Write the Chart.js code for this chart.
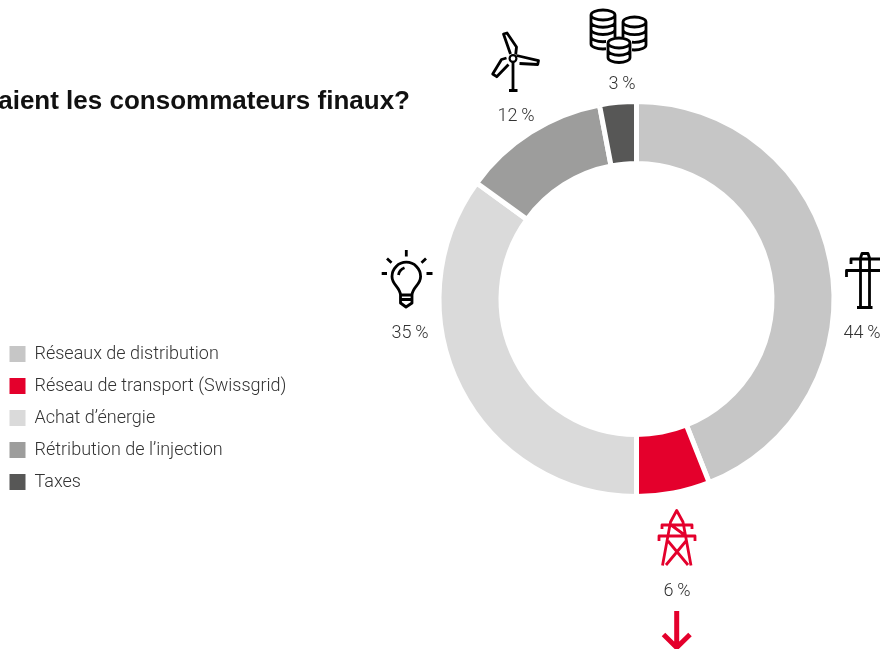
<!DOCTYPE html>
<html><head><meta charset="utf-8">
<style>html,body{margin:0;padding:0;background:#fff;overflow:hidden}canvas{display:block}</style>
<script src="https://cdn.jsdelivr.net/npm/chart.js@4"></script>
</head><body>
<div style="position:relative;width:880px;height:649px"><canvas id="c" width="880" height="649"></canvas></div>
<script>
const categories = ["Réseaux de distribution","Réseau de transport (Swissgrid)","Achat d’énergie","Rétribution de l’injection","Taxes"];
const shares = [44,6,35,12,3];
const colors = ["#c6c6c6","#e4002c","#dadada","#9d9d9c","#575756"];
const titleText = "aient les consommateurs finaux?";
const labelAnchors = [[862,338],[677,596],[410,338],[516,121],[622,89]];
const ink = "#333333", black = "#000000", red = "#e4002c";

function strokeP(ctx, d, color, w){ ctx.strokeStyle=color; ctx.lineWidth=w; ctx.stroke(new Path2D(d)); }
function coinStack(x,y,w,h,n){
  const rx=w/2, ry=5; let d=`M${x} ${y+ry}A${rx} ${ry} 0 0 1 ${x+w} ${y+ry}A${rx} ${ry} 0 0 1 ${x} ${y+ry}Z`;
  d+=`M${x} ${y+ry}V${y+h-ry}A${rx} ${ry} 0 0 0 ${x+w} ${y+h-ry}V${y+ry}`;
  const step=(h-2*ry)/n;
  for(let i=1;i<n;i++){const yy=y+ry+step*i; d+=`M${x} ${yy}A${rx} ${ry} 0 0 0 ${x+w} ${yy}`;}
  return d;
}
const decorations = {
  id:'decorations',
  afterDraw(chart){
    const ctx=chart.ctx; ctx.save();
    ctx.lineCap='butt'; ctx.lineJoin='round';
    ctx.fillStyle="#111"; ctx.font="700 26px 'Liberation Sans'"; ctx.textAlign='right'; ctx.textBaseline='alphabetic';
    ctx.fillText(titleText,410,109);
    ctx.fillStyle=ink; ctx.font="300 18px Roboto"; ctx.textAlign='center';
    shares.forEach((v,i)=>ctx.fillText(v+"\u2009%",labelAnchors[i][0],labelAnchors[i][1]));
    // distribution pylon
    strokeP(ctx,"M860.5 307V258L862 253.5H868L869.5 258V307M857 307.5H872.5M851 264V259H880M846.5 277V270.5H880",black,2.8);
    // red pylon
    strokeP(ctx,"M662.5 565.5L670.5 522L676.7 510.5L683 522L691 565.5M662 529V525H692V529M659 541V536H695V541M668 541L688 565M686 541L666 565M671 525L686 536",red,2.8);
    // arrow
    strokeP(ctx,"M676.7 611V648M663.5 634.5L676.7 647.5L690 634.5",red,5);
    // bulb
    strokeP(ctx,"M406.3 250V256.5M381.7 273.5H387M426.5 273.5H432.5M387 258.5L391.5 262.7M426 258.5L421.5 262.7",black,2.8);
    strokeP(ctx,"M400.5 295C400 287 392 285 392 276.5A14.3 14.3 0 1 1 420.6 276.5C420.6 285 412.5 287 412 295ZM400.5 295V303L406 307L412 303V295M400.5 299.5H412M398.5 275C399 271 401 269 404.5 267.7",black,2.8);
    // wind turbine
    strokeP(ctx,"M513 62V90M509 90.5H517.5M510.5 54L503.5 34L507 33L516.5 47L515.7 54.5M516.5 55.5L538.5 60.7L537.7 64.5L519.5 63.5M506.5 58L501.5 59.5L492.7 74L496.7 76.7L508.5 64.5",black,2.8);
    ctx.strokeStyle=black; ctx.lineWidth=2.2; ctx.beginPath(); ctx.arc(513,58.5,3.4,0,Math.PI*2); ctx.stroke();
    // coins
    strokeP(ctx,coinStack(591,10,24,39,4),black,2.8);
    strokeP(ctx,coinStack(623,17,23,33,3),black,2.8);
    ctx.fillStyle="#fff"; ctx.beginPath(); ctx.rect(606,37,26,27); ctx.fill();
    strokeP(ctx,coinStack(608,38,22,24.5,2),black,2.8);
    ctx.restore();
  }
};
const placeLegend = {
  id:'placeLegend',
  afterLayout(chart){
    const l=chart.legend; l.left=-4.5; l.top=331; l.right=320; l.bottom=520;
    l.width=324.5; l.height=189; l.adjustHitBoxes();
  }
};
new Chart(document.getElementById('c'),{
  type:'doughnut',
  data:{labels:categories,datasets:[{data:shares,backgroundColor:colors,borderColor:'#ffffff',borderWidth:5}]},
  plugins:[placeLegend,decorations],
  options:{
    responsive:false,animation:false,cutout:'68.6%',
    layout:{padding:{left:436.5,right:43.5,top:99,bottom:150}},
    plugins:{
      tooltip:{enabled:false},
      legend:{display:true,position:'chartArea',align:'start',
        labels:{boxWidth:16,boxHeight:16,padding:14,color:ink,font:{family:'Roboto',size:18,weight:'300'},
          generateLabels(chart){
            return Chart.overrides.doughnut.plugins.legend.labels.generateLabels(chart).map(it=>({...it,lineWidth:0,strokeStyle:'rgba(0,0,0,0)'}));
          }}}
    }
  }
});
</script>
</body></html>
